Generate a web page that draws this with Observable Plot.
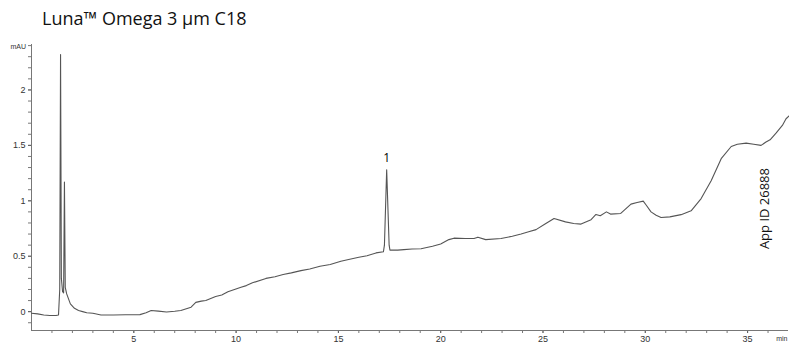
<!DOCTYPE html>
<html>
<head>
<meta charset="utf-8">
<script src="https://cdn.jsdelivr.net/npm/d3@7"></script>
<script src="https://cdn.jsdelivr.net/npm/@observablehq/plot@0.6"></script>
<style>
  html, body { margin: 0; padding: 0; background: #fff; }
  #title { height: 36px; box-sizing: border-box; padding: 7px 0 0 42px; font-family: "Open Sans", sans-serif; font-size: 18px; color: #111; line-height: 22px; white-space: nowrap; }
  #chart svg { display: block; }
</style>
</head>
<body>
<div id="title">Luna™ Omega 3 µm C18</div>
<div id="chart"></div>
<script>
// Retention time (min)
const time = [0.00,0.3,0.6,0.9,1.2,1.32,1.38,1.42,1.46,1.52,1.57,1.61,1.65,1.72,1.9,2.1,2.3,2.5,2.7,3.0,3.4,4.0,4.6,5.3,5.6,5.85,6.2,6.6,7.0,7.3,7.8,8.03,8.3,8.52,9.0,9.3,9.6,10.24,10.5,10.8,11.46,11.9,12.3,12.7,13.17,13.6,14.1,14.6,15.12,15.5,16.0,16.4,16.84,17.2,17.25,17.36,17.48,17.52,17.9,18.2,18.6,19.04,19.6,20.0,20.4,20.65,21.2,21.63,21.82,22.2,22.95,23.5,23.93,24.3,24.66,25.1,25.54,26.1,26.5,26.86,27.35,27.59,27.8,28.1,28.3,28.8,29.3,29.6,29.9,30.05,30.28,30.53,30.77,31.2,31.75,32.24,32.73,33.22,33.71,34.2,34.5,34.93,35.3,35.66,35.9,36.1,36.39,36.7,36.88,37.05];
// Absorbance (mAU)
const absorbance = [-0.015,-0.02,-0.03,-0.035,-0.035,-0.03,0.2,2.32,0.3,0.18,0.17,1.17,0.22,0.16,0.07,0.03,0.01,0.0,-0.01,-0.015,-0.03,-0.03,-0.028,-0.027,-0.01,0.01,0.005,-0.003,0.003,0.01,0.04,0.084,0.095,0.1,0.136,0.15,0.18,0.22,0.235,0.26,0.30,0.315,0.335,0.35,0.37,0.385,0.41,0.425,0.455,0.47,0.49,0.505,0.53,0.54,0.6,1.28,0.6,0.555,0.555,0.56,0.565,0.567,0.59,0.61,0.65,0.663,0.66,0.66,0.672,0.65,0.66,0.68,0.70,0.72,0.74,0.79,0.84,0.81,0.795,0.79,0.83,0.877,0.865,0.90,0.88,0.886,0.97,0.985,0.997,0.96,0.90,0.87,0.85,0.855,0.875,0.91,1.02,1.18,1.38,1.49,1.51,1.52,1.51,1.50,1.53,1.55,1.61,1.68,1.74,1.77];

const xTicks = [5, 10, 15, 20, 25, 30, 35];
const xMinor = d3.range(1, 37, 1);
const yTicks = [0, 0.5, 1, 1.5, 2];
const yTickLabels = ["0", "0.5", "1", "1.5", "2"];
const yMinor = d3.range(-1, 25, 1).map(d => d / 10);

const peakLabels = [{t: 17.36, v: 1.28, label: "1"}];

const data = time.map((t, i) => ({t, v: absorbance[i]}));
const xDomain = [0, 37];
const yDomain = [-0.17, 2.41];

const plot = Plot.plot({
  width: 789,
  height: 307,
  marginLeft: 31,
  marginRight: 1,
  marginTop: 8,
  marginBottom: 13,
  style: {fontFamily: "Liberation Sans, Arial, sans-serif", background: "#fff"},
  x: {domain: xDomain},
  y: {domain: yDomain},
  marks: [
    Plot.axisX({ticks: xMinor, tickSize: 3, tickFormat: () => "", label: null, stroke: "#555", strokeWidth: 0.8}),
    Plot.axisX({ticks: xTicks, tickSize: 3, tickPadding: 2, label: null, fontSize: 9, fill: "#333", stroke: "#555", strokeWidth: 0.8}),
    Plot.axisY({ticks: yMinor, tickSize: 3, tickFormat: () => "", label: null, stroke: "#555", strokeWidth: 0.8}),
    Plot.axisY({ticks: yTicks, tickSize: 3, tickPadding: 3, label: null, fontSize: 9, fill: "#333", stroke: "#555", strokeWidth: 0.8, tickFormat: (d) => yTickLabels[yTicks.indexOf(d)]}),
    Plot.ruleY([yDomain[0]], {stroke: "#777", strokeWidth: 1}),
    Plot.ruleX([xDomain[0]], {stroke: "#777", strokeWidth: 1}),
    Plot.text(["min"], {frameAnchor: "bottom-right", dy: 10, dx: -1, fontSize: 7, fill: "#333", textAnchor: "end"}),
    Plot.text(["mAU"], {frameAnchor: "top-left", dx: -21, dy: 0, fontSize: 7, fill: "#333", textAnchor: "start"}),
    Plot.line(data, {x: "t", y: "v", stroke: "#555", strokeWidth: 1.1}),
    Plot.text(peakLabels, {x: "t", y: "v", text: "label", dy: -12, fontSize: 12, fill: "#000", fontFamily: "Open Sans, sans-serif"}),
    Plot.text(["App ID 26888"], {x: 35.85, y: 0.93, rotate: -90, fontSize: 13, fill: "#111", fontFamily: "Open Sans, sans-serif"})
  ]
});
document.getElementById("chart").appendChild(plot);
</script>
</body>
</html>
